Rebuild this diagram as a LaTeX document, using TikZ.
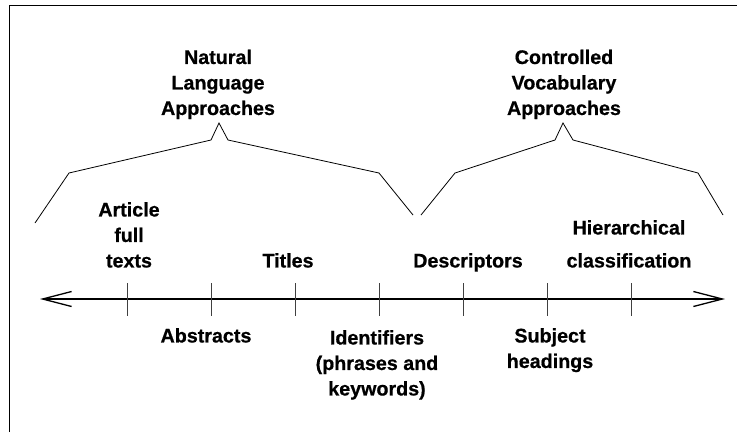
\documentclass[tikz,border=0pt]{standalone}
\usepackage{fontspec}
\setmainfont{Liberation Sans}[BoldFeatures={FakeBold=0.7}]
\usetikzlibrary{arrows.meta}
\begin{document}
\begin{tikzpicture}[x=1pt,y=-1pt,
  lbl/.style={inner sep=0pt, anchor=north, align=center,
              font=\fontsize{19.7}{25.5}\selectfont\bfseries},
  brace/.style={line width=0.8pt, line join=miter},
  axis/.style={line width=1.3pt,
    {Straight Barb[length=29pt,width=15pt]}-{Straight Barb[length=29pt,width=15pt]}},
  tickmark/.style={line width=0.9pt, draw=black!75},
  frame/.style={line width=1.3pt}]
\useasboundingbox (0,0) rectangle (737,432);

% frame (left and top edges)
\draw[frame] (9.5,432) -- (9.5,5.5) -- (737,5.5);

% group headings
\node[lbl] (nl) at (218,49.5) {Natural\\Language\\Approaches};
\node[lbl] (cv) at (564,49.5) {Controlled\\Vocabulary\\Approaches};

% natural language brace
\coordinate (nlA) at (35,223);
\coordinate (nlB) at (69,173);
\coordinate (nlC) at (211,140);
\coordinate (nlP) at (219,123);
\coordinate (nlD) at (228,140);
\coordinate (nlE) at (379,173);
\coordinate (nlF) at (413,215);
\draw[brace] (nlA) -- (nlB) -- (nlC) -- (nlP) -- (nlD) -- (nlE) -- (nlF);

% controlled vocabulary brace
\coordinate (cvA) at (421,215);
\coordinate (cvB) at (455,173);
\coordinate (cvC) at (555,140);
\coordinate (cvP) at (563,123);
\coordinate (cvD) at (573,140);
\coordinate (cvE) at (698,173);
\coordinate (cvF) at (723,215);
\draw[brace] (cvA) -- (cvB) -- (cvC) -- (cvP) -- (cvD) -- (cvE) -- (cvF);

% axis with ticks
\coordinate (axL) at (40,299);
\coordinate (axR) at (725,299);
\draw[axis] (axL) -- (axR);
\foreach \i/\x in {1/127,2/211,3/295,4/379,5/463,6/547,7/631}{
  \coordinate (t\i) at (\x,299);
  \draw[tickmark] ([yshift=-16.5pt]t\i) -- ([yshift=16.5pt]t\i);
}

% labels above the axis
\node[lbl] (art) at (129,202) {Article\\full\\texts};
\node[lbl] (tit) at (288,253) {Titles};
\node[lbl] (des) at (468,253) {Descriptors};
\node[lbl] (hie) at (629,220) {Hierarchical\\[7.5pt]classification};

% labels below the axis
\node[lbl] (abs) at (206,328) {Abstracts};
\node[lbl] (ide) at (377,330) {Identifiers\\(phrases and\\keywords)};
\node[lbl] (sub) at (550,328) {Subject\\headings};
\end{tikzpicture}
\end{document}
